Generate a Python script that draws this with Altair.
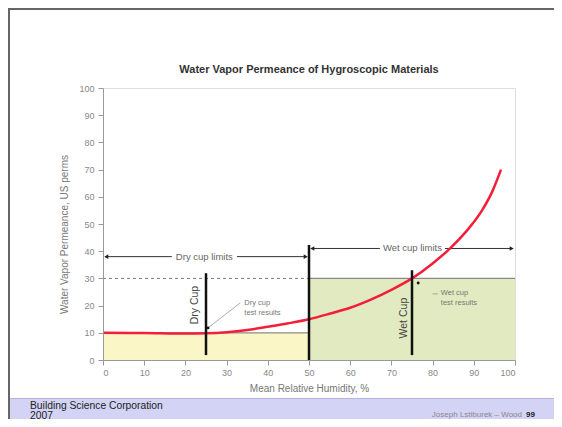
import altair as alt
import pandas as pd

# ---- data ----
rh = [0, 10, 20, 25, 30, 35, 40, 45, 50, 55, 60, 65, 70, 75, 80, 84, 88, 92, 94.5, 96.6]
perm = [10, 9.9, 9.7, 9.8, 10.2, 11, 12.2, 13.5, 15, 17, 19.2, 22.2, 25.8, 30, 35.5, 40.7, 47, 55, 62, 70]

zone_x = [0, 50]
zone_x2 = [50, 100]
zone_y2 = [10, 30]
zone_color = ["#faf6c6", "#e1eac0"]

dash_x = [0]
dash_x2 = [50]
dash_y = [30]

cup_x = [25, 75, 50]
cup_y = [1.8, 1.8, 0]
cup_y2 = [31.9, 33, 42.3]

limit_seg_x = [0.8, 32.5, 50.8, 83]
limit_seg_x2 = [16.7, 49.2, 67.2, 99.2]
limit_seg_y = [38, 38, 41, 41]

head_x = [0.8, 49.2, 50.8, 99.2]
head_y = [38, 38, 41, 41]
head_shape = ["triangle-left", "triangle-right", "triangle-left", "triangle-right"]

limit_text = ["Dry cup limits", "Wet cup limits"]
limit_text_x = [24.6, 75.1]
limit_text_y = [38, 41]

cup_text = ["Dry Cup", "Wet Cup"]
cup_text_x = [22.3, 73.1]
cup_text_y = [20.2, 15.4]

dot_x = [25.5, 76.5]
dot_y = [11.8, 28.3]
lead_x = [25.5, 80.0]
lead_y = [11.8, 24.3]
lead_x2 = [33.3, 81.3]
lead_y2 = [21.0, 24.3]

note_line1 = ["Dry cup", "Wet cup"]
note_line2 = ["test results", "test results"]
note_x = [34.3, 82.0]
note_y1 = [21.0, 24.6]
note_y2 = [17.4, 21.0]

tick_values = list(range(0, 101, 10))

# ---- tables ----
curve = pd.DataFrame({"x": rh, "y": perm})
zones = pd.DataFrame({"x": zone_x, "x2": zone_x2, "y": [0, 0], "y2": zone_y2, "c": zone_color})
dash = pd.DataFrame({"x": dash_x, "x2": dash_x2, "y": dash_y})
cups = pd.DataFrame({"x": cup_x, "y": cup_y, "y2": cup_y2})
segs = pd.DataFrame({"x": limit_seg_x, "x2": limit_seg_x2, "y": limit_seg_y})
heads = pd.DataFrame({"x": head_x, "y": head_y, "s": head_shape})
ltext = pd.DataFrame({"t": limit_text, "x": limit_text_x, "y": limit_text_y})
ctext = pd.DataFrame({"t": cup_text, "x": cup_text_x, "y": cup_text_y})
dots = pd.DataFrame({"x": dot_x, "y": dot_y})
leads = pd.DataFrame({"x": lead_x, "y": lead_y, "x2": lead_x2, "y2": lead_y2})
notes = pd.DataFrame({"x": note_x + note_x, "y": note_y1 + note_y2, "t": note_line1 + note_line2})
one = pd.DataFrame({"a": [0]})

FONT = "Liberation Sans"
W, H = 412, 272
xs = alt.Scale(domain=[0, 100], nice=False, zero=False)
ys = alt.Scale(domain=[0, 100], nice=False, zero=False)
common = dict(grid=False, zindex=1, labelFontSize=9, labelColor="#888", titleFontSize=10,
              titleColor="#777", titleFontWeight="normal", tickSize=5, labelOverlap=False,
              domainColor="#999", tickColor="#999", labelFont=FONT, titleFont=FONT)
xax = alt.Axis(values=tick_values, title="Mean Relative Humidity, %",
               labelPadding=3, titlePadding=6, **common)
yax = alt.Axis(values=tick_values, title="Water Vapor Permeance, US perms",
               labelPadding=4, titlePadding=9, titleY=146, **common)

X = lambda f="x": alt.X(f"{f}:Q", scale=xs, axis=xax)
Y = lambda f="y": alt.Y(f"{f}:Q", scale=ys, axis=yax)

# slide frame + footer (pixel positions relative to plot origin)
band = alt.Chart(one).mark_rect(color="#d3d3f6").encode(
    x=alt.value(-95), x2=alt.value(451), y=alt.value(311), y2=alt.value(331))
bandline = alt.Chart(one).mark_rule(color="#b4b4e4", strokeWidth=1.2).encode(
    x=alt.value(-95), x2=alt.value(451), y=alt.value(310.5))
frame_left = alt.Chart(one).mark_rule(color="#666", strokeWidth=2).encode(
    x=alt.value(-94), y=alt.value(-80), y2=alt.value(331))
frame_top = alt.Chart(one).mark_rule(color="#666", strokeWidth=2).encode(
    x=alt.value(-95), x2=alt.value(451), y=alt.value(-79))

zone_layer = alt.Chart(zones).mark_rect().encode(
    x=X(), x2="x2:Q", y=Y(), y2="y2:Q", color=alt.Color("c:N", scale=None))
zone_top = alt.Chart(zones).mark_rule(color="#8a8a8a", strokeWidth=1.2).encode(
    x=X(), x2="x2:Q", y=Y("y2"))
dashed = alt.Chart(dash).mark_rule(color="#777", strokeDash=[3, 3], strokeWidth=1).encode(
    x=X(), x2="x2:Q", y=Y())

cup_lines = alt.Chart(cups).mark_rule(color="#111", strokeWidth=2.5).encode(
    x=X(), y=Y(), y2="y2:Q")
seg_lines = alt.Chart(segs).mark_rule(color="#333", strokeWidth=1).encode(
    x=X(), x2="x2:Q", y=Y())
head_pts = alt.Chart(heads).mark_point(filled=True, color="#222", size=22, opacity=1).encode(
    x=X(), y=Y(), shape=alt.Shape("s:N", scale=None))
ltext_layer = alt.Chart(ltext).mark_text(fontSize=9.5, color="#666", font=FONT).encode(
    x=X(), y=Y(), text="t:N")
ctext_layer = alt.Chart(ctext).mark_text(fontSize=10.5, color="#444", angle=270, font=FONT).encode(
    x=X(), y=Y(), text="t:N")
lead_layer = alt.Chart(leads).mark_rule(color="#999", strokeWidth=0.8).encode(
    x=X(), y=Y(), x2="x2:Q", y2="y2:Q")
note_layer = alt.Chart(notes).mark_text(fontSize=7.5, color="#777", align="left", font=FONT).encode(
    x=X(), y=Y(), text="t:N")
curve_layer = alt.Chart(curve).mark_line(color="#f41e3a", strokeWidth=2.5, interpolate="monotone").encode(
    x=X(), y=Y())
dot_layer = alt.Chart(dots).mark_point(filled=True, color="#111", size=8, opacity=1).encode(
    x=X(), y=Y())

title = alt.Chart(one).mark_text(fontSize=11, fontWeight="bold", color="#333", font=FONT).encode(
    x=alt.value(206), y=alt.value(-18), text=alt.value("Water Vapor Permeance of Hygroscopic Materials"))
foot1 = alt.Chart(one).mark_text(fontSize=10.3, color="#222", align="left", font=FONT).encode(
    x=alt.value(-73), y=alt.value(318), text=alt.value("Building Science Corporation"))
foot2 = alt.Chart(one).mark_text(fontSize=10.3, color="#222", align="left", font=FONT).encode(
    x=alt.value(-73), y=alt.value(327.5), text=alt.value("2007"))
foot3 = alt.Chart(one).mark_text(fontSize=8, color="#888", align="right", font=FONT).encode(
    x=alt.value(419), y=alt.value(327), text=alt.value("Joseph Lstiburek \u2013 Wood"))
foot4 = alt.Chart(one).mark_text(fontSize=8, color="#222", fontWeight="bold", align="left", font=FONT).encode(
    x=alt.value(423), y=alt.value(327), text=alt.value("99"))

chart = alt.layer(
    band, bandline, frame_left, frame_top,
    zone_layer, zone_top, dashed, seg_lines, head_pts, ltext_layer,
    curve_layer, cup_lines, ctext_layer, lead_layer, note_layer, dot_layer,
    title, foot1, foot2, foot3, foot4,
).properties(
    width=W, height=H,
    autosize=alt.AutoSizeParams(type="none"),
    padding={"left": 95, "top": 80, "right": 39, "bottom": 59},
).configure_view(stroke="#c8c8c8", strokeWidth=1).configure(background="white")

chart.save("out.html", embed_options={"renderer": "svg", "actions": False})
